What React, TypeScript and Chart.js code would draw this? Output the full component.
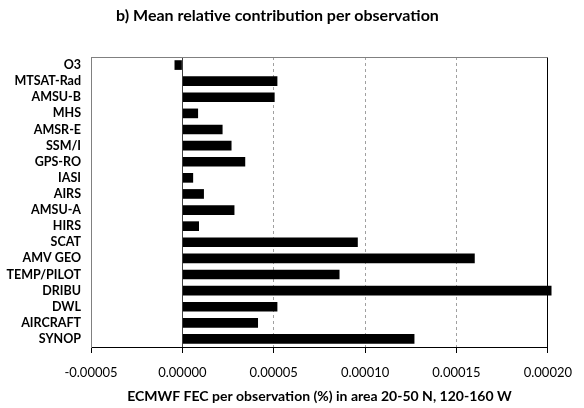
import React, { useEffect, useRef } from "react";
import { Chart, registerables } from "chart.js";

Chart.register(...registerables);

const categories = [
  "O3", "MTSAT-Rad", "AMSU-B", "MHS", "AMSR-E", "SSM/I", "GPS-RO", "IASI", "AIRS",
  "AMSU-A", "HIRS", "SCAT", "AMV GEO", "TEMP/PILOT", "DRIBU", "DWL", "AIRCRAFT", "SYNOP",
];
const values = [
  -0.0000043, 0.000052, 0.0000505, 0.0000086, 0.000022, 0.0000269, 0.0000344, 0.0000059, 0.0000118,
  0.0000285, 0.0000091, 0.000096, 0.00016, 0.000086, 0.000202, 0.000052, 0.0000414, 0.000127,
];
const xMin = -0.00005;
const xMax = 0.0002;
const xStep = 0.00005;
const titleText = "b) Mean relative contribution per observation";
const xTitle = "ECMWF FEC per observation (%) in area 20-50 N, 120-160 W";

const FONT = "Lato, 'Open Sans', sans-serif";

const topBorder = {
  id: "topBorder",
  afterDraw(chart: any) {
    const { ctx, chartArea } = chart;
    ctx.save();
    ctx.strokeStyle = "#808080";
    ctx.lineWidth = 1;
    ctx.beginPath();
    ctx.moveTo(chartArea.left, chartArea.top + 0.5);
    ctx.lineTo(chartArea.right, chartArea.top + 0.5);
    ctx.stroke();
    ctx.restore();
  },
};

export default function App() {
  const ref = useRef<HTMLCanvasElement | null>(null);
  useEffect(() => {
    document.body.style.margin = "0";
    const chart = new Chart(ref.current as HTMLCanvasElement, {
      type: "bar",
      data: {
        labels: categories,
        datasets: [
          {
            data: values,
            backgroundColor: "#000000",
            borderWidth: 0,
            barPercentage: 0.6,
            categoryPercentage: 1,
            clip: false as any,
          },
        ],
      },
      options: {
        indexAxis: "y",
        animation: false,
        responsive: false,
        maintainAspectRatio: false,
        layout: { padding: { left: 0, right: 29, top: 0, bottom: 0 } },
        plugins: {
          legend: { display: false },
          tooltip: { enabled: false },
          title: {
            display: true,
            text: titleText,
            color: "#000",
            font: { family: FONT, size: 16, weight: "bold" },
            padding: { top: 6.5, bottom: 31.3 },
          },
        },
        scales: {
          x: {
            type: "linear",
            min: xMin,
            max: xMax,
            afterFit: (s: any) => { s.height = 61; },
            ticks: {
              stepSize: xStep,
              color: "#000",
              padding: 12,
              font: { family: FONT, size: 13 },
              callback: (v: any) => Number(v).toFixed(5),
            },
            grid: {
              color: (c: any) => {
                const v = c.tick ? c.tick.value : null;
                if (v === null) return "#999";
                if (Math.abs(v) < 1e-12) return "#404040";
                if (Math.abs(v - xMax) < 1e-12) return "#000";
                if (Math.abs(v - xMin) < 1e-12) return "rgba(0,0,0,0)";
                return "#a0a0a0";
              },
              lineWidth: 1,
              drawTicks: true,
              tickLength: 6,
              tickColor: "#000",
              tickBorderDash: [],
            },
            border: {
              display: true,
              color: "#000",
              dash: (c: any) => {
                const v = c.tick ? c.tick.value : null;
                if (v === null) return [];
                if (Math.abs(v) < 1e-12 || Math.abs(v - xMax) < 1e-12) return [];
                return [3, 3];
              },
            } as any,
            title: {
              display: true,
              text: xTitle,
              color: "#000",
              font: { family: FONT, size: 14, weight: "bold" },
              padding: { top: 3, bottom: 3 },
            },
          },
          y: {
            afterFit: (s: any) => { s.width = 91; },
            ticks: {
              color: "#000",
              padding: 10,
              autoSkip: false,
              font: { family: FONT, size: 12.5, weight: "bold" },
            },
            grid: { display: false, drawTicks: false },
            border: { display: true, color: "#808080" },
          },
        },
      },
      plugins: [topBorder],
    });
    return () => chart.destroy();
  }, []);
  return (
    <div style={{ width: 584, height: 408, background: "#fff" }}>
      <canvas ref={ref} width={584} height={408} />
    </div>
  );
}
